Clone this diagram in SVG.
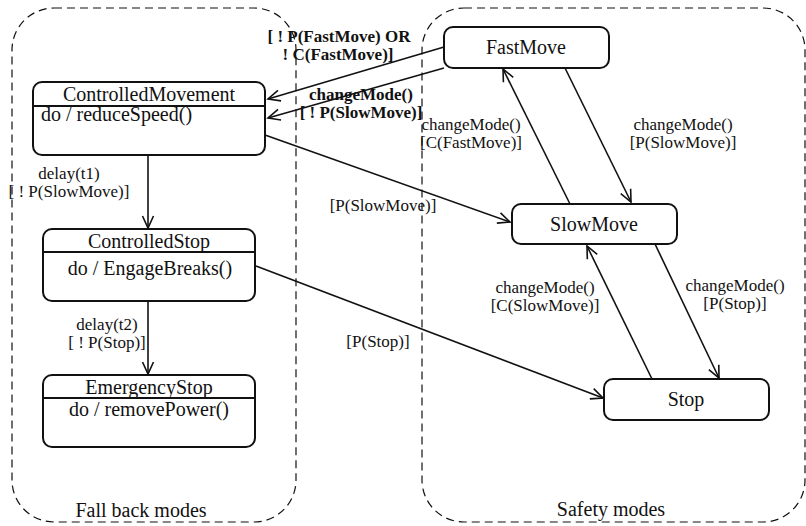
<svg xmlns="http://www.w3.org/2000/svg" width="806" height="526" viewBox="0 0 806 526" font-family="'Liberation Serif', 'Times New Roman', serif">
<defs>
<style>
text{font-family:'Liberation Serif','Times New Roman',serif;fill:#111}
.t{font-size:20px;text-anchor:middle}
.d{font-size:20px}
.l{font-size:17px;text-anchor:middle}
.b{font-size:17px;text-anchor:middle;font-weight:bold}
.node{fill:#fff;stroke:#111;stroke-width:2}
.div{stroke:#111;stroke-width:2}
.cont{fill:none;stroke:#111;stroke-width:1.2;stroke-dasharray:8,5}
.edge{fill:none;stroke:#111;stroke-width:1.6;marker-end:url(#arr)}
</style>
<marker id="arr" markerUnits="userSpaceOnUse" viewBox="-13 -7 15 14" markerWidth="15" markerHeight="14" refX="0" refY="0" orient="auto">
<path d="M-12,-5.5 L0,0 L-12,5.5" fill="none" stroke="#111" stroke-width="1.6"/>
</marker>
</defs>
<g id="containers">
<rect class="cont" x="12" y="8" width="284" height="514" rx="42" ry="42"/>
<rect class="cont" x="422" y="8" width="383" height="514" rx="42" ry="42"/>
<text class="t" x="141" y="517">Fall back modes</text>
<text class="t" x="611" y="516">Safety modes</text>
</g>
<g id="edges">
<line class="edge" x1="444" y1="47" x2="268" y2="99"/>
<line class="edge" x1="444" y1="68" x2="268" y2="118"/>
<line class="edge" x1="265" y1="135" x2="510" y2="222"/>
<line class="edge" x1="148" y1="155" x2="148" y2="228"/>
<line class="edge" x1="148" y1="301" x2="148" y2="374"/>
<line class="edge" x1="256" y1="266" x2="603" y2="398"/>
<line class="edge" x1="565" y1="68" x2="631" y2="202"/>
<line class="edge" x1="570" y1="204" x2="503" y2="69"/>
<line class="edge" x1="655" y1="244" x2="719" y2="378"/>
<line class="edge" x1="652" y1="379" x2="587" y2="246"/>
<text class="b" x="339" y="42">[ ! P(FastMove) OR</text>
<text class="b" x="338" y="60">! C(FastMove)]</text>
<text class="b" x="361" y="100">changeMode()</text>
<text class="b" x="361" y="118">[ ! P(SlowMove)]</text>
<text class="l" x="471" y="130">changeMode()</text>
<text class="l" x="471" y="148">[C(FastMove)]</text>
<text class="l" x="683" y="130">changeMode()</text>
<text class="l" x="683" y="148">[P(SlowMove)]</text>
<text class="l" x="383" y="211">[P(SlowMove)]</text>
<text class="l" x="69" y="179">delay(t1)</text>
<text class="l" x="69" y="197">[ ! P(SlowMove)]</text>
<text class="l" x="107" y="330">delay(t2)</text>
<text class="l" x="107" y="348">[ ! P(Stop)]</text>
<text class="l" x="378" y="347">[P(Stop)]</text>
<text class="l" x="545" y="293">changeMode()</text>
<text class="l" x="545" y="311">[C(SlowMove)]</text>
<text class="l" x="735" y="291">changeMode()</text>
<text class="l" x="735" y="309">[P(Stop)]</text>
</g>
<g id="ControlledMovement">
<rect class="node" x="33" y="82" width="232" height="73" rx="9"/>
<line class="div" x1="33" y1="106" x2="265" y2="106"/>
<text class="t" x="149" y="101">ControlledMovement</text>
<text class="d" x="41" y="121">do / reduceSpeed()</text>
</g>
<g id="ControlledStop">
<rect class="node" x="43" y="229" width="212" height="72" rx="9"/>
<line class="div" x1="43" y1="252" x2="255" y2="252"/>
<text class="t" x="149" y="248">ControlledStop</text>
<text class="t" x="150" y="275">do / EngageBreaks()</text>
</g>
<g id="EmergencyStop">
<rect class="node" x="43" y="375" width="212" height="72" rx="9"/>
<line class="div" x1="43" y1="398" x2="255" y2="398"/>
<text class="t" x="149" y="394">EmergencyStop</text>
<text class="t" x="149" y="416">do / removePower()</text>
</g>
<g id="FastMove">
<rect class="node" x="444" y="27" width="165" height="41" rx="9"/>
<text class="t" x="526" y="54">FastMove</text>
</g>
<g id="SlowMove">
<rect class="node" x="512" y="204" width="165" height="40" rx="9"/>
<text class="t" x="594" y="231">SlowMove</text>
</g>
<g id="Stop">
<rect class="node" x="604" y="379" width="165" height="41" rx="9"/>
<text class="t" x="686" y="406">Stop</text>
</g>
</svg>
